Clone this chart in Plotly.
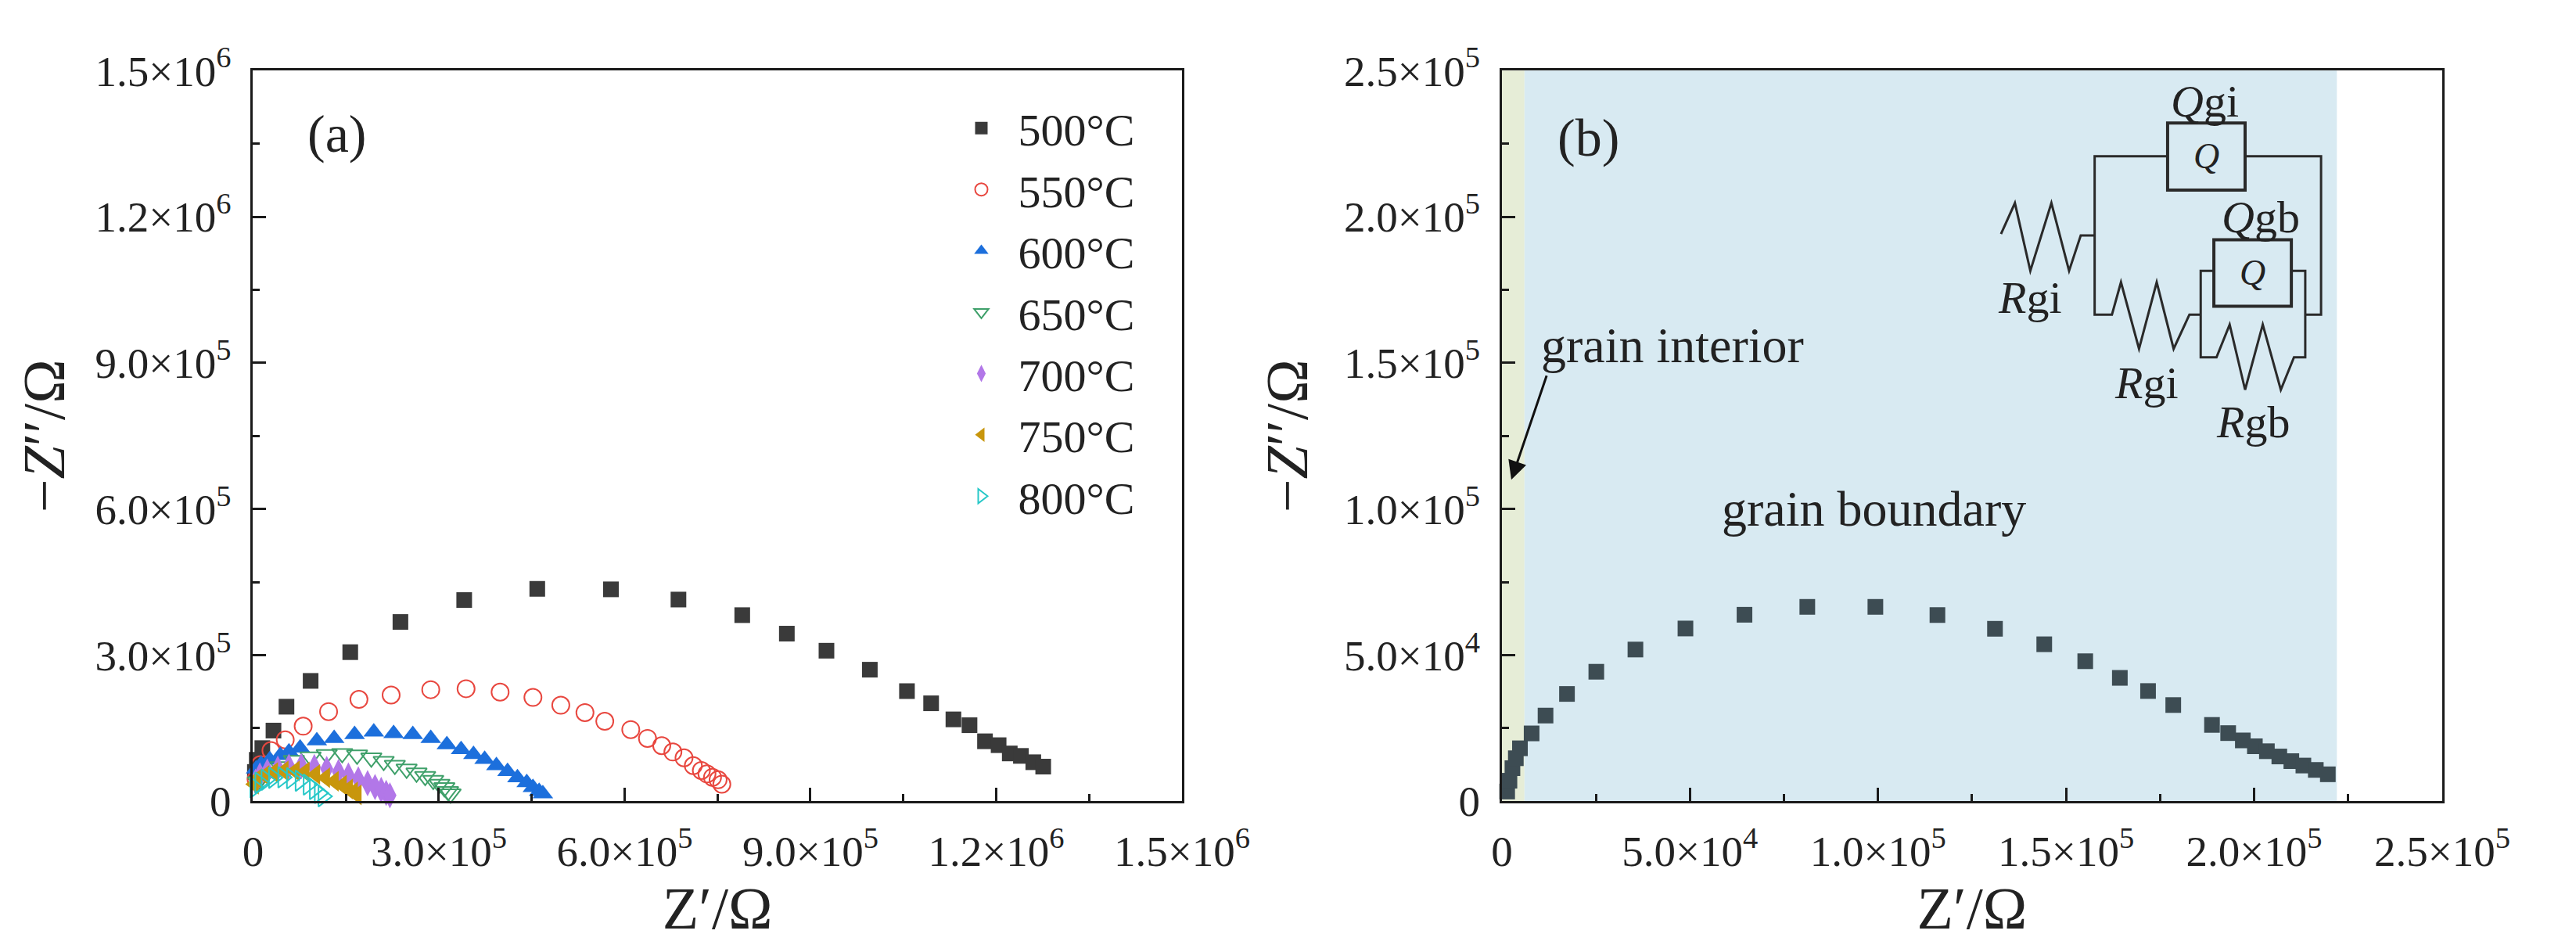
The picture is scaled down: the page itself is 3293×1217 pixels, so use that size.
import plotly.graph_objects as go

# Panel (a): Nyquist plots at each temperature, Z' and -Z'' in ohm
temps = ["500°C", "550°C", "600°C", "650°C", "700°C", "750°C", "800°C"]

re_500 = [3e3, 6e3, 1.5e4, 3.3e4, 5.4e4, 9.3e4, 1.57e5, 2.38e5, 3.41e5, 4.59e5, 5.78e5, 6.87e5, 7.90e5,
          8.62e5, 9.26e5, 9.96e5, 1.056e6, 1.095e6, 1.131e6, 1.157e6, 1.182e6, 1.204e6, 1.222e6,
          1.240e6, 1.260e6, 1.276e6]
im_500 = [6.0e4, 8.5e4, 1.09e5, 1.45e5, 1.94e5, 2.47e5, 3.06e5, 3.68e5, 4.13e5, 4.36e5, 4.35e5, 4.14e5,
          3.82e5, 3.44e5, 3.09e5, 2.70e5, 2.26e5, 2.01e5, 1.68e5, 1.56e5, 1.23e5, 1.15e5, 9.8e4,
          9.3e4, 8.0e4, 7.1e4]

re_550 = [5e3, 1.2e4, 2.9e4, 5.2e4, 8.1e4, 1.22e5, 1.71e5, 2.23e5, 2.87e5, 3.44e5, 3.99e5, 4.52e5,
          4.97e5, 5.36e5, 5.68e5, 6.10e5, 6.37e5, 6.60e5, 6.78e5, 6.96e5, 7.11e5, 7.24e5, 7.33e5,
          7.42e5, 7.51e5, 7.57e5]
im_550 = [4.5e4, 7.5e4, 1.04e5, 1.26e5, 1.54e5, 1.84e5, 2.09e5, 2.18e5, 2.29e5, 2.31e5, 2.24e5, 2.13e5,
          1.97e5, 1.82e5, 1.64e5, 1.47e5, 1.29e5, 1.14e5, 1.01e5, 8.9e4, 7.3e4, 6.3e4, 5.6e4,
          4.9e4, 4.4e4, 3.5e4]

re_600 = [5e3, 1.3e4, 2.7e4, 4.4e4, 5.8e4, 7.6e4, 1.03e5, 1.31e5, 1.64e5, 1.95e5, 2.27e5, 2.58e5,
          2.87e5, 3.13e5, 3.36e5, 3.56e5, 3.74e5, 3.93e5, 4.11e5, 4.27e5, 4.42e5, 4.52e5, 4.62e5, 4.68e5]
im_600 = [6.6e4, 7.6e4, 8.5e4, 9.4e4, 1.01e5, 1.09e5, 1.24e5, 1.29e5, 1.37e5, 1.42e5, 1.39e5, 1.37e5,
          1.29e5, 1.16e5, 1.06e5, 9.6e4, 8.6e4, 7.3e4, 6.1e4, 4.8e4, 3.8e4, 2.8e4, 2.0e4, 1.5e4]

re_650 = [8e3, 2.3e4, 4.4e4, 6.6e4, 9.3e4, 1.19e5, 1.44e5, 1.68e5, 1.91e5, 2.11e5, 2.29e5, 2.48e5,
          2.64e5, 2.78e5, 2.91e5, 3.01e5, 3.09e5, 3.15e5, 3.19e5]
im_650 = [4.0e4, 5.8e4, 7.1e4, 8.4e4, 9.1e4, 9.6e4, 9.8e4, 9.5e4, 8.9e4, 8.2e4, 7.4e4, 6.6e4,
          5.8e4, 5.1e4, 4.3e4, 3.5e4, 2.8e4, 2.0e4, 1.5e4]

re_700 = [4e3, 1.1e4, 2.3e4, 4.0e4, 5.8e4, 7.8e4, 9.9e4, 1.19e5, 1.38e5, 1.54e5, 1.70e5, 1.85e5,
          1.97e5, 2.07e5, 2.15e5, 2.21e5]
im_700 = [4.0e4, 5.3e4, 6.1e4, 6.7e4, 7.1e4, 7.2e4, 7.0e4, 6.6e4, 6.0e4, 5.3e4, 4.5e4, 3.7e4,
          2.9e4, 2.3e4, 1.7e4, 1.2e4]

re_750 = [2e3, 7e3, 1.9e4, 3.3e4, 5.0e4, 6.8e4, 8.4e4, 1.01e5, 1.17e5, 1.31e5, 1.44e5, 1.54e5, 1.62e5, 1.68e5]
im_750 = [3.5e4, 4.6e4, 5.3e4, 5.9e4, 6.2e4, 6.2e4, 6.0e4, 5.5e4, 4.8e4, 4.1e4, 3.3e4, 2.5e4, 1.9e4, 1.3e4]

re_800 = [3e3, 1.1e4, 2.1e4, 3.3e4, 4.8e4, 6.2e4, 7.6e4, 8.9e4, 9.9e4, 1.07e5, 1.13e5]
im_800 = [2.8e4, 3.8e4, 4.4e4, 4.8e4, 4.9e4, 4.7e4, 4.2e4, 3.4e4, 2.5e4, 1.7e4, 1.0e4]

# Panel (b): zoomed spectrum with grain interior / grain boundary regions
re_b = [1.4e3, 2.0e3, 2.8e3, 3.7e3, 4.8e3, 7.9e3, 1.16e4, 1.73e4, 2.51e4, 3.55e4, 4.88e4, 6.45e4,
        8.12e4, 9.93e4, 1.158e5, 1.311e5, 1.442e5, 1.551e5, 1.643e5, 1.718e5, 1.785e5, 1.888e5,
        1.931e5, 1.970e5, 2.002e5, 2.034e5, 2.067e5, 2.099e5, 2.131e5, 2.164e5, 2.196e5]
im_b = [3.3e3, 7.0e3, 1.13e4, 1.47e4, 1.81e4, 2.32e4, 2.93e4, 3.67e4, 4.43e4, 5.19e4, 5.91e4, 6.38e4,
        6.65e4, 6.65e4, 6.37e4, 5.90e4, 5.37e4, 4.79e4, 4.22e4, 3.77e4, 3.29e4, 2.61e4,
        2.33e4, 2.08e4, 1.88e4, 1.71e4, 1.53e4, 1.37e4, 1.22e4, 1.07e4, 9.2e3]
gi_end = 6e3      # limite grain interior
gb_end = 2.22e5   # limite grain boundary

# Tick labels
ticks_a = [0, 3e5, 6e5, 9e5, 1.2e6, 1.5e6]
ticktext_a = ["0", "3.0×10<sup>5</sup>", "6.0×10<sup>5</sup>", "9.0×10<sup>5</sup>",
              "1.2×10<sup>6</sup>", "1.5×10<sup>6</sup>"]
minor_a = [1.5e5, 4.5e5, 7.5e5, 1.05e6, 1.35e6]
ticks_b = [0, 5e4, 1e5, 1.5e5, 2e5, 2.5e5]
ticktext_b = ["0", "5.0×10<sup>4</sup>", "1.0×10<sup>5</sup>", "1.5×10<sup>5</sup>",
              "2.0×10<sup>5</sup>", "2.5×10<sup>5</sup>"]
minor_b = [2.5e4, 7.5e4, 1.25e5, 1.75e5, 2.25e5]

FONT = "Liberation Serif"
INK = "#222"
W, H = 3293, 1217

series_a = [
    (re_500, im_500, dict(symbol="square", size=20, color="#3a3a3a")),
    (re_550, im_550, dict(symbol="circle-open", size=22, color="#e8473f", line=dict(width=2))),
    (re_600, im_600, dict(symbol="triangle-up", size=23, color="#1c6fdc")),
    (re_650, im_650, dict(symbol="triangle-down-open", size=23, color="#3fa06a", line=dict(width=2))),
    (re_700, im_700, dict(symbol="diamond-tall", size=24, color="#b277e8")),
    (re_750, im_750, dict(symbol="triangle-left", size=23, color="#c8960c")),
    (re_800, im_800, dict(symbol="triangle-right-open", size=23, color="#27c8c8", line=dict(width=2))),
]

fig = go.Figure()

for name, (xs, ys, mk) in zip(temps, series_a):
    fig.add_trace(go.Scatter(x=xs, y=ys, mode="markers", name=name, marker=mk,
                             cliponaxis=False, xaxis="x", yaxis="y"))

fig.add_trace(go.Scatter(x=re_b, y=im_b, mode="markers", showlegend=False,
                         marker=dict(symbol="square", size=20, color="#3d4c53"),
                         cliponaxis=False, xaxis="x2", yaxis="y2"))

# Axes communs
ax_style = dict(showline=True, linecolor="#1a1a1a", linewidth=3, mirror=True,
                ticks="inside", ticklen=17, tickwidth=3, tickcolor="#1a1a1a",
                showgrid=False, zeroline=False, ticklabelstandoff=14,
                tickfont=dict(family=FONT, size=55, color=INK))
minor_style = dict(ticks="inside", ticklen=9, tickwidth=3, tickcolor="#1a1a1a")
title_font = dict(family=FONT, size=76, color=INK)

y_dom = [1 - 1037 / H, 1 - 47 / H]

fig.update_layout(
    width=W, height=H,
    margin=dict(l=0, r=0, t=0, b=0),
    paper_bgcolor="white", plot_bgcolor="white",
    font=dict(family=FONT, color=INK),
    xaxis=dict(ax_style, domain=[311 / W, 1536 / W], range=[0, 1.5e6], tickmode="array",
               tickvals=ticks_a, ticktext=ticktext_a, anchor="y",
               minor=dict(minor_style, tickvals=minor_a),
               title=dict(text="Z′/Ω", font=title_font, standoff=16)),
    yaxis=dict(ax_style, domain=y_dom, range=[0, 1.5e6], tickmode="array",
               tickvals=ticks_a, ticktext=ticktext_a, anchor="x",
               minor=dict(minor_style, tickvals=minor_a),
               title=dict(text="−<i>Z</i>′′/Ω", font=title_font, standoff=14)),
    xaxis2=dict(ax_style, domain=[1958 / W, 3198 / W], range=[0, 2.5e5], tickmode="array",
                tickvals=ticks_b, ticktext=ticktext_b, anchor="y2",
                minor=dict(minor_style, tickvals=minor_b),
                title=dict(text="Z′/Ω", font=title_font, standoff=16)),
    yaxis2=dict(ax_style, domain=y_dom, range=[0, 2.5e5], tickmode="array",
                tickvals=ticks_b, ticktext=ticktext_b, anchor="x2",
                minor=dict(minor_style, tickvals=minor_b),
                title=dict(text="−<i>Z</i>′′/Ω", font=title_font, standoff=22)),
    legend=dict(x=1223 / W, y=1 - 78 / H, xanchor="left", yanchor="top",
                bgcolor="rgba(0,0,0,0)", borderwidth=0, itemwidth=84,
                font=dict(family=FONT, size=58, color=INK)),
)

# Zones colorees du panneau (b)
fig.add_shape(type="rect", xref="x2", yref="y2 domain", x0=0, x1=gi_end, y0=0, y1=1,
              fillcolor="#e6edd7", line_width=0, layer="below")
fig.add_shape(type="rect", xref="x2", yref="y2 domain", x0=gi_end, x1=gb_end, y0=0, y1=1,
              fillcolor="#d8eaf2", line_width=0, layer="below")

# Circuit equivalent (coordonnees du panneau b, en kOhm)
def p(pts):
    return "M " + " L ".join(f"{x * 1e3},{y * 1e3}" for x, y in pts)

wire = dict(color="#2a2a2a", width=3)
circuit_paths = [
    # resistance Rgi en serie (gauche)
    [(132.7, 194.1), (136.4, 204.7), (140.5, 181.5), (146.1, 204.7), (150.8, 181.5), (153.9, 193.6), (157.6, 193.6)],
    # boucle principale
    [(177.0, 220.7), (157.6, 220.7), (157.6, 166.5), (162.2, 166.5), (164.6, 177.6), (169.4, 154.8),
     (174.1, 177.6), (178.6, 154.8), (182.8, 166.5), (185.8, 166.5)],
    [(197.6, 220.7), (217.8, 220.7), (217.8, 166.5), (213.6, 166.5)],
    # bloc interne Qgb // Rgb
    [(189.3, 181.5), (185.8, 181.5), (185.8, 151.9), (190.0, 151.9), (193.5, 163.1), (197.6, 140.8),
     (202.3, 163.1), (207.1, 140.8), (210.6, 151.9), (213.6, 151.9), (213.6, 181.5), (209.9, 181.5)],
]
for pts in circuit_paths:
    fig.add_shape(type="path", xref="x2", yref="y2", path=p(pts), line=wire)

for x0, x1, y0, y1 in [(177.0, 197.6, 209.1, 232.1), (189.3, 209.9, 169.4, 192.1)]:
    fig.add_shape(type="rect", xref="x2", yref="y2", x0=x0 * 1e3, x1=x1 * 1e3, y0=y0 * 1e3, y1=y1 * 1e3,
                  line=dict(color="#2a2a2a", width=4))

circuit_labels = [
    ("<i>Q</i>gi", 186.9, 239.5), ("<i>Q</i>", 187.3, 220.7), ("<i>Q</i>gb", 201.7, 199.9),
    ("<i>Q</i>", 199.6, 180.8), ("<i>R</i>gi", 140.5, 172.3), ("<i>R</i>gi", 171.4, 143.2),
    ("<i>R</i>gb", 199.6, 129.7),
]
for txt, x, y in circuit_labels:
    size = 46 if txt == "<i>Q</i>" else 58
    fig.add_annotation(x=x * 1e3, y=y * 1e3, xref="x2", yref="y2", text=txt, showarrow=False,
                       font=dict(family=FONT, size=size, color=INK))

# Textes
fig.add_annotation(x=1.35e5, y=1.37e6, xref="x", yref="y", text="(a)", showarrow=False,
                   font=dict(family=FONT, size=68, color=INK))
fig.add_annotation(x=2.3e4, y=2.27e5, xref="x2", yref="y2", text="(b)", showarrow=False,
                   font=dict(family=FONT, size=68, color=INK))
fig.add_annotation(x=1.0e4, y=1.56e5, xref="x2", yref="y2", text="grain interior", showarrow=False,
                   xanchor="left", font=dict(family=FONT, size=64, color=INK))
fig.add_annotation(x=9.9e4, y=1.0e5, xref="x2", yref="y2", text="grain boundary", showarrow=False,
                   font=dict(family=FONT, size=64, color=INK))
fig.add_annotation(x=2.5e3, y=1.1e5, ax=1.2e4, ay=1.46e5, xref="x2", yref="y2", axref="x2", ayref="y2",
                   text="", showarrow=True, arrowhead=2, arrowsize=1.6, arrowwidth=3, arrowcolor="#111")

fig.write_html("out.html")
